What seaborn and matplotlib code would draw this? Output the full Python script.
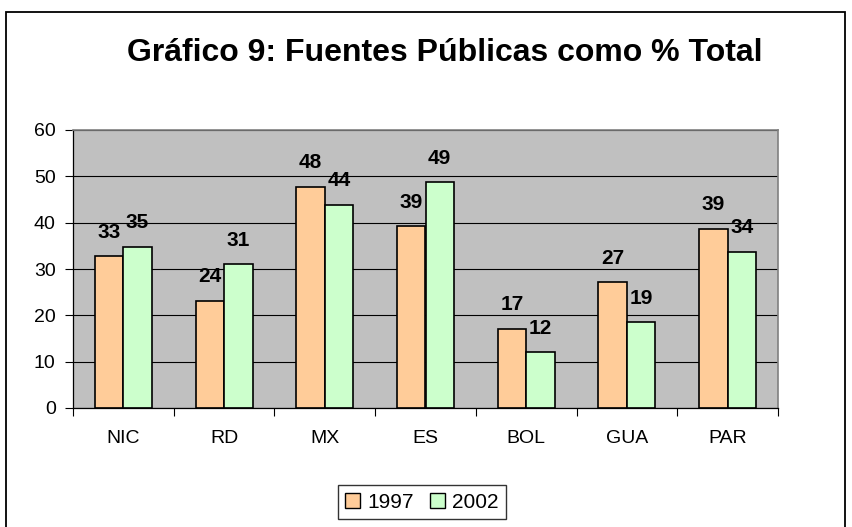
import pandas as pd
import numpy as np
import seaborn as sns
import matplotlib.pyplot as plt
from matplotlib.patches import Rectangle

# values
countries = ["NIC", "RD", "MX", "ES", "BOL", "GUA", "PAR"]
years = ["1997", "2002"]
values_1997 = [32.7, 23.2, 47.8, 39.2, 17.1, 27.1, 38.7]
values_2002 = [34.8, 31.0, 43.8, 48.7, 12.0, 18.5, 33.7]
labels_1997 = [33, 24, 48, 39, 17, 27, 39]
labels_2002 = [35, 31, 44, 49, 12, 19, 34]

colors = {"1997": "#FFCC99", "2002": "#CCFFCC"}

sns.set_theme(style="white")
plt.rcParams["font.family"] = ["Liberation Sans", "DejaVu Sans"]
plt.rcParams["text.color"] = "black"
plt.rcParams["xtick.color"] = "black"
plt.rcParams["ytick.color"] = "black"

df = pd.DataFrame({
    "pais": countries * 2,
    "anio": ["1997"] * len(countries) + ["2002"] * len(countries),
    "valor": values_1997 + values_2002,
})

fig = plt.figure(figsize=(8.52, 5.27), dpi=100)
ax = fig.add_axes([73 / 852, 1 - 408 / 527, 705 / 852, 278 / 527])
ax.set_facecolor("#C0C0C0")

sns.barplot(data=df, x="pais", y="valor", hue="anio", order=countries,
            hue_order=years, palette=colors, width=0.565,
            edgecolor="black", linewidth=1.2, saturation=1, ax=ax,
            legend=False)

for cont, labs in zip(ax.containers, [labels_1997, labels_2002]):
    ax.bar_label(cont, labels=[str(v) for v in labs], padding=10.5,
                 fontsize=15, fontweight="bold", color="black")

ax.set_ylim(0, 60)
ax.set_xlim(-0.5, len(countries) - 0.5)
ax.set_yticks(range(0, 61, 10))
ax.yaxis.grid(True, color="black", linewidth=0.8)
ax.set_axisbelow(True)
ax.set_xlabel("")
ax.set_ylabel("")

# category labels in the middle, tick marks between categories
ax.set_xticks(range(len(countries)))
ax.set_xticklabels(countries)
ax.set_xticks(np.arange(-0.5, len(countries), 1.0), minor=True)
ax.tick_params(axis="x", which="major", length=0, pad=16, labelsize=14,
               labelcolor="black")
ax.tick_params(axis="x", which="minor", length=6, width=0.8, color="black",
               direction="out", bottom=True)
ax.tick_params(axis="y", length=6, width=0.8, color="black", direction="out",
               pad=6.5, labelsize=14, left=True, labelcolor="black")

for side in ["left", "bottom"]:
    ax.spines[side].set_color("black")
    ax.spines[side].set_linewidth(0.9)
for side in ["top", "right"]:
    ax.spines[side].set_color("#808080")
    ax.spines[side].set_linewidth(1.2)

fig.text(445 / 852, 1 - 53 / 527, "Gráfico 9: Fuentes Públicas como % Total",
         ha="center", va="center", fontsize=23, fontweight="bold",
         color="black")

handles = [Rectangle((0, 0), 1, 1, facecolor=colors[y], edgecolor="black",
                     linewidth=1) for y in years]
leg = fig.legend(handles, years, loc="center", ncol=2,
                 bbox_to_anchor=(422 / 852, 1 - 502 / 527), fontsize=15,
                 frameon=True, fancybox=False, shadow=False,
                 handlelength=0.7, handleheight=0.7, handletextpad=0.35,
                 columnspacing=0.8, borderpad=0.35, borderaxespad=0)
leg.get_frame().set_edgecolor("black")
leg.get_frame().set_linewidth(1)
for t in leg.get_texts():
    t.set_color("black")

# chart area border (bottom edge runs past the image)
fig.patches.append(Rectangle((6 / 852, -0.1), 839 / 852, 1 - 12 / 527 + 0.1,
                             transform=fig.transFigure, fill=False,
                             edgecolor="black", linewidth=1.3))

fig.savefig("out.png", dpi=100)
